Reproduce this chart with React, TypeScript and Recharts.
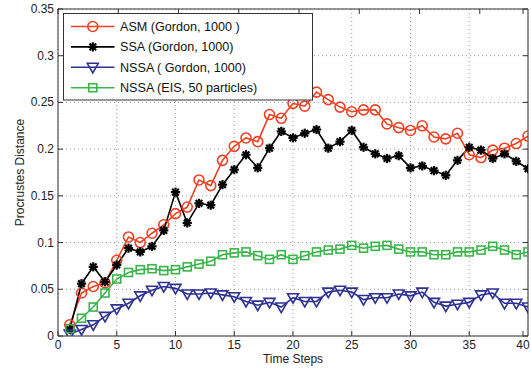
import { CartesianGrid, Legend, Line, LineChart, XAxis, YAxis } from "recharts";

const steps = [
  1, 2, 3, 4, 5, 6, 7, 8, 9, 10, 11, 12, 13, 14, 15, 16, 17, 18, 19, 20,
  21, 22, 23, 24, 25, 26, 27, 28, 29, 30, 31, 32, 33, 34, 35, 36, 37, 38, 39, 40,
];

const asm = [
  0.012, 0.046, 0.053, 0.057, 0.081, 0.106, 0.1, 0.11, 0.119, 0.131,
  0.138, 0.167, 0.161, 0.188, 0.203, 0.212, 0.208, 0.237, 0.233, 0.249,
  0.246, 0.261, 0.253, 0.245, 0.24, 0.242, 0.242, 0.227, 0.223, 0.22,
  0.225, 0.213, 0.211, 0.217, 0.194, 0.191, 0.199, 0.201, 0.206, 0.214,
];

const ssa = [
  0.007, 0.056, 0.074, 0.058, 0.076, 0.094, 0.09, 0.096, 0.113, 0.154,
  0.121, 0.142, 0.14, 0.162, 0.178, 0.194, 0.18, 0.201, 0.219, 0.212,
  0.217, 0.221, 0.201, 0.208, 0.22, 0.202, 0.195, 0.19, 0.193, 0.18,
  0.182, 0.177, 0.172, 0.188, 0.202, 0.199, 0.19, 0.195, 0.187, 0.179,
];

const nssa = [
  0.002, 0.007, 0.012, 0.021, 0.029, 0.035, 0.043, 0.049, 0.053, 0.051,
  0.045, 0.045, 0.046, 0.044, 0.042, 0.037, 0.033, 0.036, 0.031, 0.041,
  0.037, 0.037, 0.047, 0.049, 0.047, 0.039, 0.041, 0.041, 0.045, 0.043,
  0.047, 0.036, 0.032, 0.034, 0.036, 0.044, 0.046, 0.035, 0.035, 0.031,
];

const eis = [
  0.008, 0.019, 0.031, 0.046, 0.061, 0.068, 0.071, 0.072, 0.07, 0.071,
  0.074, 0.077, 0.08, 0.087, 0.089, 0.09, 0.086, 0.082, 0.087, 0.082,
  0.086, 0.09, 0.092, 0.093, 0.097, 0.094, 0.096, 0.097, 0.093, 0.09,
  0.09, 0.087, 0.087, 0.09, 0.09, 0.092, 0.096, 0.092, 0.087, 0.09,
];

const xTicks = [0, 5, 10, 15, 20, 25, 30, 35, 40];
const yTicks = [0, 0.05, 0.1, 0.15, 0.2, 0.25, 0.3, 0.35];

const seriesNames = [
  "ASM (Gordon, 1000 )",
  "SSA (Gordon, 1000)",
  "NSSA ( Gordon, 1000)",
  "NSSA (EIS, 50 particles)",
];

const FONT = '"Liberation Sans", Arial, Helvetica, sans-serif';
const AXIS = "#333";

const series = [
  { key: "asm", name: seriesNames[0], color: "#ee4225", marker: "circle" },
  { key: "ssa", name: seriesNames[1], color: "#000000", marker: "star" },
  { key: "nssa", name: seriesNames[2], color: "#2e3192", marker: "triangle" },
  { key: "eis", name: seriesNames[3], color: "#3ab54a", marker: "square" },
];

const data = steps.map((step, i) => ({
  step,
  asm: asm[i],
  ssa: ssa[i],
  nssa: nssa[i],
  eis: eis[i],
}));

function Marker({ kind, cx, cy, color }: { kind: string; cx: number; cy: number; color: string }) {
  if (kind === "circle") {
    return <circle cx={cx} cy={cy} r={5} fill="#fff" fillOpacity={0} stroke={color} strokeWidth={1.6} />;
  }
  if (kind === "star") {
    const r = 4.6;
    const d = r * 0.72;
    return (
      <g stroke={color} strokeWidth={2.2}>
        <line x1={cx - r} y1={cy} x2={cx + r} y2={cy} />
        <line x1={cx} y1={cy - r} x2={cx} y2={cy + r} />
        <line x1={cx - d} y1={cy - d} x2={cx + d} y2={cy + d} />
        <line x1={cx - d} y1={cy + d} x2={cx + d} y2={cy - d} />
      </g>
    );
  }
  if (kind === "triangle") {
    return (
      <polygon
        points={`${cx - 5.5},${cy - 4} ${cx + 5.5},${cy - 4} ${cx},${cy + 5.5}`}
        fill="none"
        stroke={color}
        strokeWidth={1.6}
      />
    );
  }
  return <rect x={cx - 4} y={cy - 4} width={8} height={8} fill="none" stroke={color} strokeWidth={1.6} />;
}

const tickText = { fontSize: 12, fill: "#222", fontFamily: FONT };

function BottomTick({ x, y, payload }: any) {
  return (
    <g>
      <line x1={x} x2={x} y1={y} y2={y - 5} stroke={AXIS} />
      <text x={x} y={y + 13} textAnchor="middle" {...tickText}>
        {payload.value}
      </text>
    </g>
  );
}

function LeftTick({ x, y, payload }: any) {
  return (
    <g>
      <line x1={x} x2={x + 5} y1={y} y2={y} stroke={AXIS} />
      <text x={x - 4} y={y + 4} textAnchor="end" {...tickText}>
        {String(payload.value)}
      </text>
    </g>
  );
}

function TopTick({ x, y }: any) {
  return <line x1={x} x2={x} y1={y} y2={y + 5} stroke={AXIS} />;
}

function RightTick({ x, y }: any) {
  return <line x1={x} x2={x - 5} y1={y} y2={y} stroke={AXIS} />;
}

function LegendBox() {
  return (
    <svg width={251} height={88} style={{ display: "block" }}>
      <rect x={0.5} y={0.5} width={249} height={86.5} fill="#fff" stroke={AXIS} />
      {series.map((s, i) => {
        const cy = 13.5 + i * 20.4;
        return (
          <g key={s.key}>
            <line x1={8} x2={51.5} y1={cy} y2={cy} stroke={s.color} strokeWidth={1.6} />
            <Marker kind={s.marker} cx={29.8} cy={cy} color={s.color} />
            <text x={57} y={cy + 4.5} fontSize={12.6} fill="#111" fontFamily={FONT}>
              {s.name}
            </text>
          </g>
        );
      })}
    </svg>
  );
}

export default function App() {
  return (
    <div style={{ position: "absolute", left: 0, top: 0, width: 531, height: 368, background: "#fff", overflow: "hidden" }}>
      <LineChart width={531} height={368} data={data} margin={{ top: 0, right: 0, bottom: 0, left: 0 }}>
        <CartesianGrid stroke="#999" strokeDasharray="1 3" />
        <XAxis
          dataKey="step"
          type="number"
          domain={[0, 40]}
          ticks={xTicks}
          allowDataOverflow
          height={32}
          stroke={AXIS}
          tickLine={false}
          tickSize={0}
          tickMargin={0}
          tick={<BottomTick />}
          label={{ value: "Time Steps", position: "insideBottom", offset: 5, fontSize: 12, fill: "#222", fontFamily: FONT }}
        />
        <XAxis
          xAxisId="top"
          orientation="top"
          type="number"
          domain={[0, 40]}
          ticks={xTicks}
          allowDataOverflow
          height={9}
          stroke={AXIS}
          tickLine={false}
          tickSize={0}
          tickMargin={0}
          tick={<TopTick />}
        />
        <YAxis
          type="number"
          domain={[0, 0.35]}
          ticks={yTicks}
          allowDataOverflow
          width={58}
          stroke={AXIS}
          tickLine={false}
          tickSize={0}
          tickMargin={0}
          tick={<LeftTick />}
          label={{
            content: ({ viewBox }: any) => {
              const cx = viewBox.x + 20;
              const cy = viewBox.y + viewBox.height / 2;
              return (
                <text
                  x={cx}
                  y={cy}
                  transform={`rotate(-90 ${cx} ${cy})`}
                  textAnchor="middle"
                  dominantBaseline="central"
                  fontSize={12}
                  fill="#222"
                  fontFamily={FONT}
                >
                  Procrustes Distance
                </text>
              );
            },
          }}
        />
        <YAxis
          yAxisId="right"
          orientation="right"
          type="number"
          domain={[0, 0.35]}
          ticks={yTicks}
          allowDataOverflow
          width={3}
          stroke={AXIS}
          tickLine={false}
          tickSize={0}
          tickMargin={0}
          tick={<RightTick />}
        />
        {series.map((s) => (
          <Line
            key={s.key}
            type="linear"
            dataKey={s.key}
            name={s.name}
            stroke={s.color}
            strokeWidth={1.6}
            isAnimationActive={false}
            dot={(p: any) => <Marker key={`${s.key}-${p.index}`} kind={s.marker} cx={p.cx} cy={p.cy} color={s.color} />}
            activeDot={false}
          />
        ))}
        <Legend
          layout="vertical"
          align="center"
          verticalAlign="middle"
          wrapperStyle={{ left: 63, top: 13, width: 251, height: 88, margin: 0, padding: 0 }}
          content={() => <LegendBox />}
        />
      </LineChart>
    </div>
  );
}
